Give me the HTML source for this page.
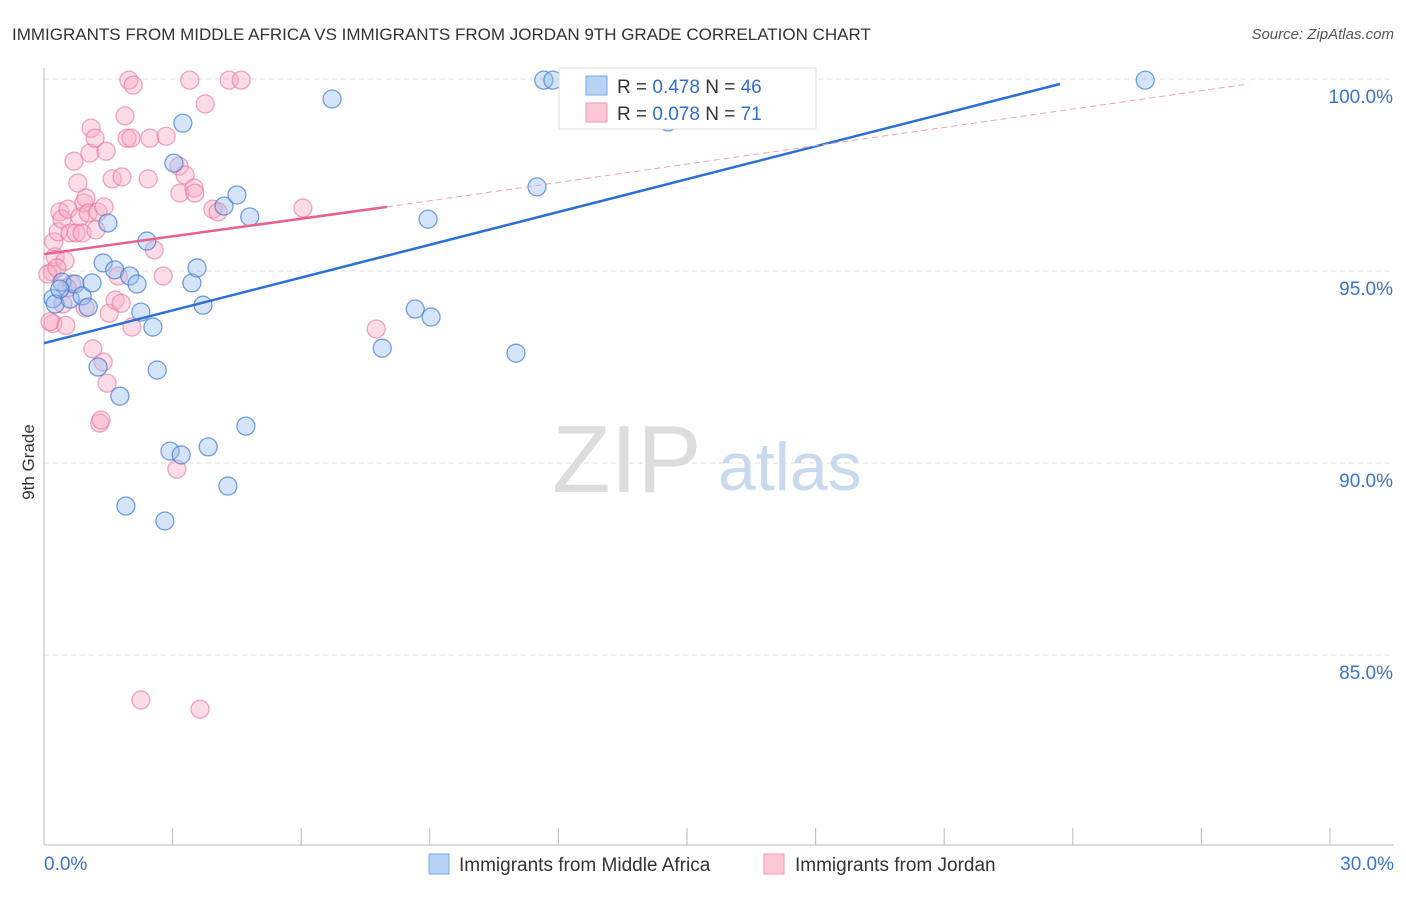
<!DOCTYPE html>
<html><head><meta charset="utf-8"><style>
body{margin:0;background:#fff;font-family:"Liberation Sans",sans-serif;}
svg text{font-family:"Liberation Sans",sans-serif;}
</style></head><body>
<svg id="chart" width="1406" height="892" xmlns="http://www.w3.org/2000/svg">
<text x="12" y="40" font-size="17" fill="#333">IMMIGRANTS FROM MIDDLE AFRICA VS IMMIGRANTS FROM JORDAN 9TH GRADE CORRELATION CHART</text>
<text x="1394" y="39" font-size="15" fill="#555" font-style="italic" text-anchor="end">Source: ZipAtlas.com</text>
<text x="34" y="462" font-size="17" fill="#333" transform="rotate(-90 34 462)" text-anchor="middle">9th Grade</text>
<text x="552" y="492" font-size="96" fill="#ddd" font-family="Liberation Serif">ZIP</text>
<text x="718" y="490" font-size="68" fill="#c9daf0">atlas</text>
<g id="grid"></g><g id="axes"></g><g id="pts"></g><g id="trends"></g>
<g>
<rect x="559" y="68" width="257" height="61" fill="#fff" stroke="#ddd"/>
<rect x="586" y="76" width="21" height="19" fill="#b9d3f5" stroke="#7aa7e6"/>
<rect x="586" y="103" width="21" height="19" fill="#fcc8d6" stroke="#ef9ab3"/>
<text x="617" y="93" font-size="19" fill="#333">R = <tspan fill="#2f6fd3">0.478</tspan>   N = <tspan fill="#2f6fd3">46</tspan></text>
<text x="617" y="120" font-size="19" fill="#333">R = <tspan fill="#2f6fd3">0.078</tspan>   N = <tspan fill="#2f6fd3"> 71</tspan></text>
</g>
<g>
<rect x="429" y="854" width="20" height="20" fill="#b9d3f5" stroke="#7aa7e6"/>
<text x="459" y="871" font-size="19" fill="#333">Immigrants from Middle Africa</text>
<rect x="764" y="854" width="20" height="20" fill="#fcc8d6" stroke="#ef9ab3"/>
<text x="795" y="871" font-size="19" fill="#333">Immigrants from Jordan</text>
</g>
</svg>
<script>
const NS="http://www.w3.org/2000/svg";
const yTicks=[100,95,90,85];
const yTickLabels=["100.0%","95.0%","90.0%","85.0%"];
const xTicks=[0,3,6,9,12,15,18,21,24,27,30];
const xEndLabels=["0.0%","30.0%"];
const blueX=[0.21,0.26,0.42,0.61,0.72,0.89,1.03,1.12,1.26,1.38,1.49,1.65,1.77,1.91,2.00,2.17,2.26,2.40,2.54,2.64,2.82,2.94,3.03,3.20,3.24,3.45,3.57,3.71,3.83,4.20,4.29,4.50,4.71,4.80,6.72,7.89,8.66,8.96,9.03,11.01,11.50,11.66,11.87,14.56,25.69,0.37];
const blueY=[94.28,94.14,94.71,94.27,94.66,94.35,94.06,94.69,92.50,95.21,96.25,95.03,91.74,88.88,94.87,94.66,93.93,95.78,93.54,92.42,88.49,90.31,97.81,90.21,98.85,94.69,95.08,94.11,90.42,96.69,89.40,96.98,90.96,96.41,99.48,92.99,94.01,96.35,93.80,92.86,97.19,99.97,99.97,98.88,99.97,94.53];
const pinkX=[0.21,0.14,0.19,0.26,0.23,0.33,0.37,0.42,0.49,0.51,0.56,0.61,0.65,0.700,0.75,0.79,0.84,0.89,0.93,0.98,1.03,1.07,1.10,1.14,1.19,1.21,1.26,1.30,1.33,1.38,1.40,1.45,1.47,1.52,1.59,1.66,1.73,1.80,1.82,1.89,1.94,1.98,2.03,2.05,2.08,2.26,2.43,2.47,2.57,2.78,2.85,3.10,3.15,3.17,3.29,3.40,3.50,3.52,3.64,3.76,3.94,4.06,4.32,4.60,6.04,7.75,0.44,0.09,0.30,0.54,0.96];
const pinkY=[93.63,93.68,94.98,95.37,95.76,96.02,96.54,96.35,95.26,93.58,96.61,95.99,94.66,97.86,95.99,97.29,96.41,95.99,96.77,96.90,96.51,98.07,98.72,92.97,98.46,96.07,96.54,91.04,91.12,92.63,96.67,98.12,92.08,93.90,97.40,94.24,94.87,94.16,97.45,99.04,98.46,99.97,98.46,93.54,99.84,83.83,97.40,98.46,95.55,94.87,98.51,89.84,97.73,97.03,97.50,99.97,97.16,97.03,83.59,99.35,96.61,96.54,99.97,99.97,96.64,93.49,94.14,94.92,95.08,94.56,94.04];
const blueTrend=[[0,93.12],[23.7,99.87]];
const pinkTrend=[[0,95.44],[8.0,96.67]];
const pinkDash=[[8.0,96.67],[28.1,99.87]];
function X(v){return 44+v/30*1286;}
function Y(v){return 79+(100-v)*38.4;}
function el(tag,attrs,parent){const e=document.createElementNS(NS,tag);for(const k in attrs)e.setAttribute(k,attrs[k]);parent.appendChild(e);return e;}
const grid=document.getElementById('grid'),axes=document.getElementById('axes'),pts=document.getElementById('pts'),tr=document.getElementById('trends');
yTicks.forEach((t,i)=>{
 const l=el('line',{x1:44,x2:1394,y1:Y(t),y2:Y(t),stroke:'#ddd','stroke-dasharray':'5,4'},grid);
 
 
 const tx=el('text',{x:1393,y:Y(t)+24,'font-size':19,fill:'#3a74d0','text-anchor':'end'},axes);
 tx.textContent=yTickLabels[i];
 
 
});
const ax=el('line',{x1:44,x2:1394,y1:845,y2:845,stroke:'#bbb'},axes);


const ay=el('line',{x1:44,x2:44,y1:68,y2:845,stroke:'#bbb'},axes);


xTicks.forEach(t=>{
 const l=el('line',{x1:X(t),x2:X(t),y1:828,y2:845,stroke:'#bbb'},axes);
 
 
});
[[0,'start',44],[30,'end',1394]].forEach((d,i)=>{
 const tx=el('text',{x:d[2],y:870,'font-size':19,fill:'#3a74d0','text-anchor':d[1]},axes);
 tx.textContent=xEndLabels[i];
 
 
});
pinkX.forEach((x,i)=>{
 const c=el('circle',{cx:X(x),cy:Y(pinkY[i]),r:9,fill:'rgba(248,170,195,0.4)',stroke:'rgba(232,110,150,0.6)','stroke-width':1.3},pts);
 
 
});
blueX.forEach((x,i)=>{
 const c=el('circle',{cx:X(x),cy:Y(blueY[i]),r:9,fill:'rgba(150,190,240,0.4)',stroke:'rgba(60,120,210,0.7)','stroke-width':1.3},pts);
 
 
});
const bl=el('line',{x1:X(blueTrend[0][0]),y1:Y(blueTrend[0][1]),x2:X(blueTrend[1][0]),y2:Y(blueTrend[1][1]),stroke:'#2a6fd6','stroke-width':2.5},tr);


const pl=el('line',{x1:X(pinkTrend[0][0]),y1:Y(pinkTrend[0][1]),x2:X(pinkTrend[1][0]),y2:Y(pinkTrend[1][1]),stroke:'#e8608c','stroke-width':2.5},tr);


const pd=el('line',{x1:X(pinkDash[0][0]),y1:Y(pinkDash[0][1]),x2:X(pinkDash[1][0]),y2:Y(pinkDash[1][1]),stroke:'#eea0b8','stroke-width':1,'stroke-dasharray':'6,4'},tr);


</script>
</body></html>
